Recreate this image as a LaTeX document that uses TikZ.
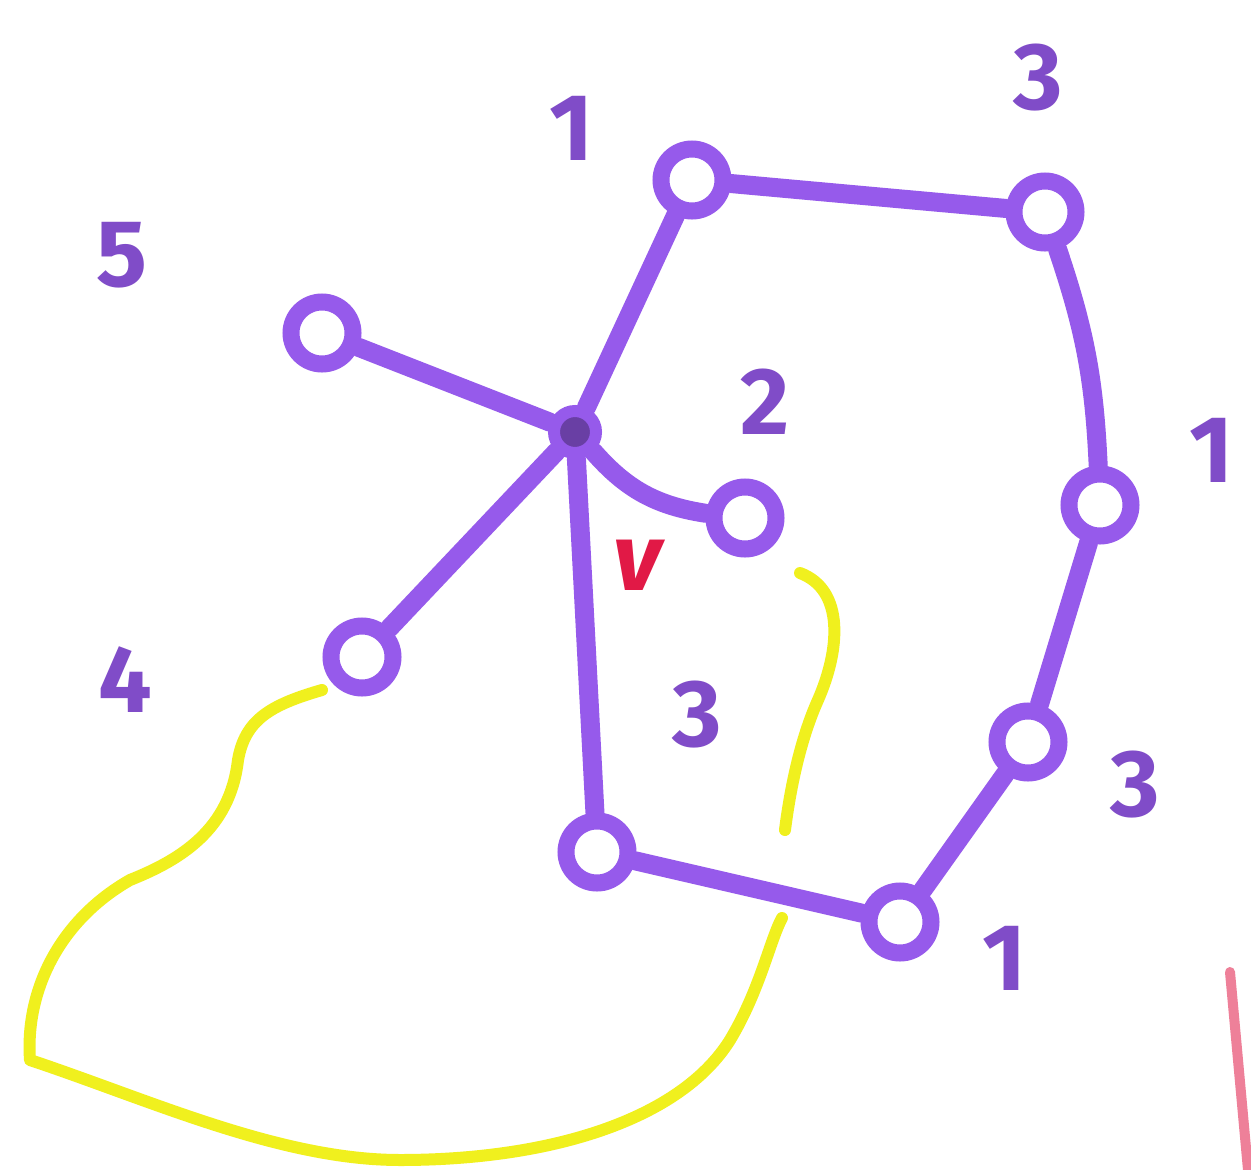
\documentclass[tikz,border=0pt]{standalone}
\usepackage{fontspec}
\setmainfont{Fira Sans}
\definecolor{vio}{RGB}{150,90,235}
\definecolor{ylw}{RGB}{240,240,30}
\definecolor{rd}{RGB}{225,25,70}
\begin{document}
\begin{tikzpicture}[x=1pt,y=-1pt,
  vtx/.style={circle,draw=vio,line width=17pt,minimum size=62pt,inner sep=0pt},
  hub/.style={circle,draw=vio,fill=vio!70!black,line width=12pt,minimum size=42pt,inner sep=0pt},
  edge/.style={draw=vio,line width=19pt,line cap=round},
  lab/.style={text=vio!85!black,font=\fontsize{95}{95}\selectfont\bfseries},
  yel/.style={draw=ylw,line width=12pt,line cap=round,line join=round}]
\useasboundingbox[fill=white] (0,0) rectangle (1251,1170);
% nodes
\node[hub] (h) at (575,432) {};
\node[vtx] (a) at (692,180) {};
\node[vtx] (b) at (1045,212) {};
\node[vtx] (c) at (1100,505) {};
\node[vtx] (d) at (1028,742) {};
\node[vtx] (e) at (900,922) {};
\node[vtx] (f) at (597,852) {};
\node[vtx] (g) at (745,518) {};
\node[vtx] (hh) at (362,657) {};
\node[vtx] (i) at (322,333) {};
% edges
\draw[edge] (h) -- (a);
\draw[edge] (a) -- (b);
\draw[edge] (b) to[bend left=8] (c);
\draw[edge] (c) -- (d);
\draw[edge] (d) -- (e);
\draw[edge] (e) -- (f);
\draw[edge] (h) -- (f);
\draw[edge] (h) to[bend right=20] (g);
\draw[edge] (h) -- (hh);
\draw[edge] (h) -- (i);
% labels
\node[lab] (l5) at (122,255) {5};
\node[lab] (l1a) at (572,128) {1};
\node[lab] (l3a) at (1038,78) {3};
\node[lab] (l2) at (765,402) {2};
\node[lab] (l1b) at (1212,450) {1};
\node[lab] (l3b) at (697,715) {3};
\node[lab] (l4) at (125,680) {4};
\node[lab] (l3c) at (1135,785) {3};
\node[lab] (l1c) at (1005,958) {1};
\node[text=rd,font=\fontsize{95}{95}\selectfont\bfseries\itshape] (v) at (637,565) {v};
% yellow annotations
\draw[yel] (800,573) .. controls (845,590) and (840,650) .. (818,700)
  .. controls (800,740) and (790,790) .. (785,830);
\coordinate (ys) at (322,690);
\draw[yel] (ys) .. controls (270,705) and (245,720) .. (238,760)
  .. controls (230,830) and (180,860) .. (130,880)
  .. controls (60,920) and (25,990) .. (30,1060)
  .. controls (150,1100) and (280,1160) .. (400,1160)
  .. controls (550,1160) and (680,1120) .. (730,1040)
  .. controls (760,990) and (770,940) .. (782,918);
% red stroke at right edge
\draw[draw=rd!55,line width=10pt,line cap=round] (1230,972) -- (1248,1170);
\end{tikzpicture}
\end{document}
